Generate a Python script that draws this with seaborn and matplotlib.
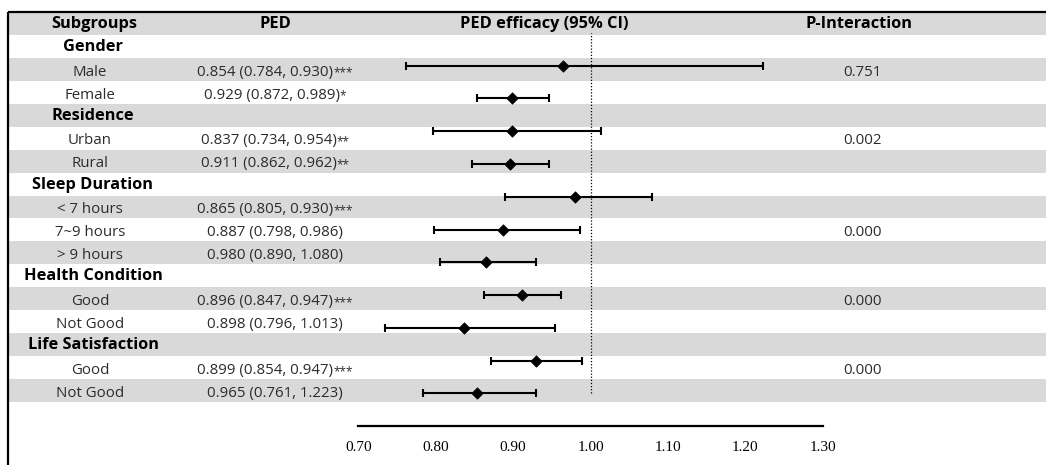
import numpy as np
import matplotlib
matplotlib.use("Agg")
import matplotlib.pyplot as plt
import seaborn as sns

# ---------------- data ----------------
groups = ["Gender", "Residence", "Sleep Duration", "Health Condition", "Life Satisfaction"]
group_items = [
    ["Male", "Female"],
    ["Urban", "Rural"],
    ["< 7 hours", "7~9 hours", "> 9 hours"],
    ["Good", "Not Good"],
    ["Good", "Not Good"],
]
est = [0.854, 0.929, 0.837, 0.911, 0.865, 0.887, 0.980, 0.896, 0.898, 0.899, 0.965]
lo = [0.784, 0.872, 0.734, 0.862, 0.805, 0.798, 0.890, 0.847, 0.796, 0.854, 0.761]
hi = [0.930, 0.989, 0.954, 0.962, 0.930, 0.986, 1.080, 0.947, 1.013, 0.947, 1.223]
stars = ["***", "*", "**", "**", "***", "", "", "***", "", "***", ""]
p_interaction = ["0.751", "0.002", "0.000", "0.000", "0.000"]
headers = ["Subgroups", "PED", "PED efficacy (95% CI)", "P-Interaction"]
xticks = [0.70, 0.80, 0.90, 1.00, 1.10, 1.20, 1.30]
xtick_labels = ["0.70", "0.80", "0.90", "1.00", "1.10", "1.20", "1.30"]

# ---------------- style ----------------
sns.set_style("white")
plt.rcParams["font.family"] = ["Open Sans", "Noto Sans CJK SC", "DejaVu Sans"]

W, H = 1046, 465
fig = plt.figure(figsize=(W / 100, H / 100), dpi=100)
renderer = fig.canvas.get_renderer()

# table background axes in pixel coordinates
tab = fig.add_axes([0, 0, 1, 1])
tab.set_xlim(0, W)
tab.set_ylim(H, 0)
tab.axis("off")

top = 12.0
n_rows = 1 + sum(1 + len(g) for g in group_items)
row_h = 22.94
left_x = 8
gray = "#d9d9d9"

for i in range(n_rows):
    if i % 2 == 0:
        tab.fill_between([left_x + 1, W], top + i * row_h, top + (i + 1) * row_h,
                         color=gray, lw=0, zorder=0)

tab.plot([left_x, W], [top, top], color="black", lw=1.6, zorder=2, solid_capstyle="butt")
tab.plot([left_x, left_x], [top, H], color="black", lw=1.6, zorder=2, solid_capstyle="butt")

col_sub = 91
col_ped = 275
col_eff = 544
col_p = 862
fs_body = 10.8
fs_head = 11.8
fs_star = 8.5
body_color = "#2b2b2b"

def row_c(i):
    return top + (i + 0.5) * row_h

def text_width(s, size, weight="normal"):
    t = tab.text(0, 0, s, fontsize=size, fontweight=weight)
    w = t.get_window_extent(renderer=renderer).width
    t.remove()
    return w

# header
for txt, x in zip(headers, [94, col_ped, col_eff, 859]):
    tab.text(x, row_c(0) + 0.5, txt, ha="center", va="center", fontsize=fs_head,
             fontweight="bold", color="black", zorder=3)

r = 1
k = 0
for g, items, pv in zip(groups, group_items, p_interaction):
    tab.text(col_sub + 2, row_c(r) + 0.5, g, ha="center", va="center", fontsize=fs_head,
             fontweight="bold", color="black", zorder=3)
    r += 1
    for j, it in enumerate(items):
        yb = row_c(r) + 6.3  # baseline
        tab.text(col_sub - 1, yb, it, ha="center", va="baseline",
                 fontsize=fs_body, color=body_color, zorder=3)
        main = f"{est[k]:.3f} ({lo[k]:.3f}, {hi[k]:.3f})"
        wm = text_width(main, fs_body)
        ws = text_width(stars[k], fs_star) if stars[k] else 0.0
        x_start = col_ped - (wm + ws) / 2
        tab.text(x_start, yb, main, ha="left", va="baseline",
                 fontsize=fs_body, color=body_color, zorder=3)
        if stars[k]:
            tab.text(x_start + wm, yb + 1.0, stars[k], ha="left", va="baseline",
                     fontsize=fs_star, color=body_color, zorder=3)
        if j == (len(items) - 1) // 2:
            tab.text(col_p, yb, pv, ha="center", va="baseline",
                     fontsize=fs_body, color=body_color, zorder=3)
        r += 1
        k += 1

# ---------------- forest axes ----------------
x0_px, x1_px = 358.3, 822.7
axis_px = 425.7
top_px = 30.0
unit = 32.76
first_px = 393.3
ax = fig.add_axes([x0_px / W, (H - axis_px) / H, (x1_px - x0_px) / W, (axis_px - top_px) / H])
ax.patch.set_alpha(0)
pos = np.arange(len(est))
ax.set_xlim(0.70, 1.30)
ax.set_ylim(0 - (axis_px - first_px) / unit, (len(est) - 1) + (first_px - unit * (len(est) - 1) - top_px) / unit)

ax.vlines(1.0, ymin=0, ymax=11.0, color="black", lw=0.9, ls=(0, (1, 1.5)), zorder=1)

est_a = np.array(est)
ax.errorbar(est_a, pos, xerr=[est_a - np.array(lo), np.array(hi) - est_a], fmt="none",
            ecolor="black", elinewidth=1.5, capsize=2.6, capthick=1.5, zorder=2)
sns.scatterplot(x=est_a, y=pos, marker="D", color="black", s=34, edgecolor="black",
                linewidth=0.5, ax=ax, zorder=3, legend=False)

for s in ["top", "right", "left"]:
    ax.spines[s].set_visible(False)
ax.spines["bottom"].set_linewidth(1.6)
ax.spines["bottom"].set_color("black")
ax.set_yticks([])
ax.set_xticks(xticks)
ax.set_xticklabels(xtick_labels, fontfamily="Liberation Serif", fontsize=11)
ax.tick_params(axis="x", which="major", length=0, pad=11, colors="black")
ax.set_xticks([0.70, 1.30], minor=True)
ax.tick_params(axis="x", which="minor", length=4, width=1.6, direction="out", color="black")
ax.set_xlabel("")
ax.set_ylabel("")

fig.savefig("out.png", dpi=100)
